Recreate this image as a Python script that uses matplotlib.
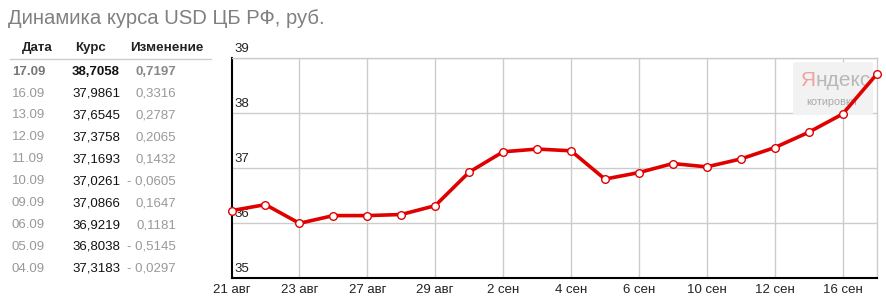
import matplotlib
matplotlib.use("Agg")
import matplotlib.pyplot as plt
from matplotlib.patches import FancyBboxPatch
from matplotlib.transforms import offset_copy

plt.rcParams['font.family'] = ['Liberation Sans', 'DejaVu Sans']

# ---------------- data ----------------
title = "Динамика курса USD ЦБ РФ, руб."
table_headers = ["Дата", "Курс", "Изменение"]
table_dates = ["17.09", "16.09", "13.09", "12.09", "11.09", "10.09", "09.09", "06.09", "05.09", "04.09"]
table_rates = [38.7058, 37.9861, 37.6545, 37.3758, 37.1693, 37.0261, 37.0866, 36.9219, 36.8038, 37.3183]
table_changes = [0.7197, 0.3316, 0.2787, 0.2065, 0.1432, -0.0605, 0.1647, 0.1181, -0.5145, -0.0297]

chart_dates = ["21 авг", "22 авг", "23 авг", "26 авг", "27 авг", "28 авг", "29 авг", "30 авг",
               "2 сен", "3 сен", "4 сен", "5 сен", "6 сен", "9 сен", "10 сен", "11 сен",
               "12 сен", "13 сен", "16 сен", "17 сен"]
chart_values = [36.23, 36.34, 36.00, 36.14, 36.14, 36.16, 36.32, 36.93,
                37.30, 37.35, 37.3183, 36.8038, 36.9219, 37.0866, 37.0261, 37.1693,
                37.3758, 37.6545, 37.9861, 38.7058]
y_ticks = [35, 36, 37, 38, 39]
watermark_main = "Яндекс"
watermark_sub = "котировки"

# ---------------- figure ----------------
W, H = 886, 300
fig = plt.figure(figsize=(W / 100, H / 100), dpi=100)
fig.patch.set_facecolor("white")

def fx(px):
    return px / W

def fy(py):
    return 1 - py / H

fig.text(fx(8), fy(19), title, fontsize=14.6, color="#808080", va="center", ha="left")

# table
fig.text(fx(22), fy(48), table_headers[0], fontsize=9.5, fontweight="bold", color="#222222", va="center", ha="left")
fig.text(fx(75), fy(48), table_headers[1], fontsize=9.5, fontweight="bold", color="#222222", va="center", ha="left")
fig.text(fx(130), fy(48), table_headers[2], fontsize=9.7, fontweight="bold", color="#222222", va="center", ha="left")
fig.add_artist(plt.Line2D([fx(10), fx(211)], [fy(58.5), fy(58.5)], color="#cccccc", lw=1))


def fmt(v):
    s = f"{abs(v):.4f}".replace(".", ",")
    return ("- " + s) if v < 0 else s

row0 = 71.7
step = 21.9
for i, (d, r, c) in enumerate(zip(table_dates, table_rates, table_changes)):
    y = row0 + i * step
    bold = (i == 0)
    fw = "bold" if bold else "normal"
    fig.text(fx(12), fy(y), d, fontsize=9.5, fontweight=fw,
             color="#777777" if bold else "#999999", va="center", ha="left")
    fig.text(fx(72), fy(y), fmt(r), fontsize=9.5, fontweight=fw,
             color="#111111", va="center", ha="left")
    fig.text(fx(176), fy(y), fmt(c), fontsize=9.5, fontweight=fw,
             color="#888888" if bold else "#999999", va="center", ha="right")

# chart axes
left, right, top, bottom = 231.5, 876.5, 58.3, 278.3
ax = fig.add_axes([fx(left), fy(bottom), fx(right - left), (bottom - top) / H])
ax.set_xlim(0, len(chart_dates) - 1)
ax.set_ylim(y_ticks[0], y_ticks[-1])
ax.set_facecolor("white")

for yv in y_ticks[1:]:
    ax.axhline(yv, color="#cccccc", lw=1, zorder=1)
for i in range(2, len(chart_dates), 2):
    ax.axvline(i, color="#cccccc", lw=1, zorder=1)

for s in ["top", "right"]:
    ax.spines[s].set_color("#cccccc")
    ax.spines[s].set_linewidth(1)
for s in ["left", "bottom"]:
    ax.spines[s].set_color("#000000")
    ax.spines[s].set_linewidth(1.5)

ax.set_yticks([])
ax.set_xticks(range(0, len(chart_dates), 2))
ax.set_xticklabels(chart_dates[::2], fontsize=9.5, color="#222222")
ax.tick_params(axis="x", length=0, pad=4)

for yv in y_ticks:
    ax.text(0.1, yv + 0.17, str(yv), fontsize=9.5, color="#222222", va="center", ha="left",
            transform=ax.transData, zorder=2)

# Yandex watermark
box = FancyBboxPatch((fx(793), fy(115)), fx(80), (115 - 62) / H,
                     boxstyle="round,pad=0,rounding_size=0.005",
                     transform=fig.transFigure, facecolor="#f2f2f2", edgecolor="none", zorder=2)
ax.add_artist(box)
wx = (800 - left) / (right - left)
wy = (bottom - 80) / (bottom - top)
t1 = ax.text(wx, wy, watermark_main[0], transform=ax.transAxes, fontsize=15,
             color="#f3a0a0", ha="left", va="center", zorder=3)
renderer = fig.canvas.get_renderer()
wpx = t1.get_window_extent(renderer=renderer).width
ax.text(wx, wy, watermark_main[1:], fontsize=15, color="#b8b8b8", ha="left", va="center", zorder=3,
        transform=offset_copy(ax.transAxes, fig=fig, x=wpx * 72 / fig.dpi + 0.3, y=0, units="points"))
ax.text((832 - left) / (right - left), (bottom - 102) / (bottom - top), watermark_sub,
        transform=ax.transAxes, fontsize=7.8, color="#aaaaaa", ha="center", va="center", zorder=3)

ax.plot(range(len(chart_values)), chart_values, color="#e00000", lw=2.6, zorder=5,
        marker="o", markersize=5.5, markerfacecolor="white", markeredgecolor="#e00000",
        markeredgewidth=1.0, clip_on=False, solid_joinstyle="round")

fig.savefig("out.png", dpi=100, facecolor="white")
